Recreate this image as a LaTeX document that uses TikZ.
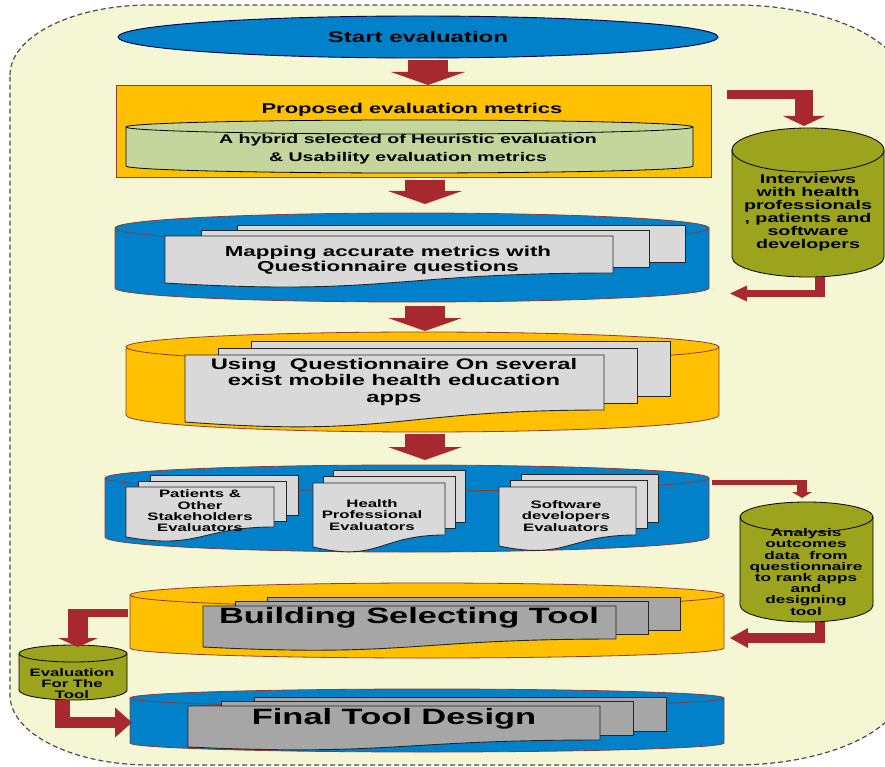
\documentclass[tikz,border=0pt]{standalone}
\usepackage{fontspec}
\setmainfont{Liberation Sans}
\usepackage{graphicx}
\usetikzlibrary{arrows.meta,shapes.geometric}
\definecolor{bgy}{HTML}{F5F6D4}
\definecolor{cblue}{HTML}{0081C9}
\definecolor{corange}{HTML}{FFC000}
\definecolor{cred}{HTML}{A8282F}
\definecolor{clgreen}{HTML}{C4D69B}
\definecolor{colive}{HTML}{9CA31C}
\definecolor{cgray}{HTML}{D9D9D9}
\definecolor{cdgray}{HTML}{A6A6A6}
\definecolor{cedge}{HTML}{8C3B3B}
\newcommand{\sx}[1]{\scalebox{1.55}[1]{#1}}
\newcommand{\fs}[2]{\bfseries\fontsize{#1}{#2}\selectfont}
\newcommand{\cyl}[7]{%
 \pgfmathsetmacro{\cylrx}{(#2-#1)/2}%
 \filldraw[#7] (#1,-#3) -- (#1,-#4) arc[start angle=180,end angle=360,x radius=\cylrx,y radius=#6] -- (#2,-#3) arc[start angle=0,end angle=180,x radius=\cylrx,y radius=#5] -- cycle;
 \draw[#7,fill=none] (#1,-#3) arc[start angle=180,end angle=360,x radius=\cylrx,y radius=#5];
}
\newcommand{\mdoc}[8]{%
 \filldraw[docline,fill=#8] ({#1+2*#6},{-(#2-2*#7)}) rectangle ({#3+2*#6},{-(#4-2*#7)});
 \filldraw[docline,fill=#8] ({#1+#6},{-(#2-#7)}) rectangle ({#3+#6},{-(#4-#7)});
 \pgfmathsetmacro{\mdxm}{(#1+#3)/2}\pgfmathsetmacro{\mdcy}{#5+1.31*(#5-#4)}%
 \filldraw[docline,fill=#8] (#1,-#2) -- (#3,-#2) -- (#3,-#4) .. controls (\mdxm,-#4) and (\mdxm,-\mdcy) .. (#1,-#5) -- cycle;
}
\tikzset{
 lbl/.style={inner sep=0pt, align=center, text=black},
 docline/.style={draw=black!85, line width=0.9pt},
 cylb/.style={fill=cblue, draw=cedge, line width=0.8pt},
 cylo/.style={fill=corange, draw=cedge, line width=0.8pt},
 cylg/.style={fill=clgreen, draw=black, line width=0.8pt},
 cylv/.style={fill=colive, draw=black, line width=0.8pt},
 bigdown/.style={draw=cred, line width=40pt, -{Triangle[width=74pt,length=13pt,line width=0pt]}},
 bar/.style={draw=cred, line width=#1},
}
\begin{document}
\begin{tikzpicture}[x=1pt,y=1pt]
\useasboundingbox (0,0) rectangle (885,-767);
\clip (0,0) rectangle (885,-767);
\fill[white] (0,0) rectangle (885,-767);
% outer dashed frame
\filldraw[fill=bgy, draw=black!70, line width=1.2pt, dash pattern=on 5pt off 3pt]
 (10,-75) arc[start angle=180,end angle=90,x radius=140,y radius=70]
 -- (735,-5) arc[start angle=90,end angle=0,x radius=170,y radius=80]
 -- (905,-685) arc[start angle=0,end angle=-90,x radius=170,y radius=80]
 -- (150,-765) arc[start angle=270,end angle=180,x radius=140,y radius=70]
 -- cycle;

% start
\node[ellipse, draw=black!70!blue, fill=cblue, line width=0.9pt, minimum width=600pt, minimum height=42pt, inner sep=0pt, font=\fs{15.5}{18}] (start) at (418,-37) {\sx{Start evaluation}};

% proposed metrics box
\node[draw=cedge, fill=corange, line width=1pt, minimum width=595pt, minimum height=92pt, inner sep=0pt] (prop) at (413.5,-132) {};
\node[lbl, font=\fs{14.2}{17}] (propt) at (412,-110) {\sx{Proposed evaluation metrics}};
\cyl{126}{693}{127}{166}{7}{7}{cylg}
\node[lbl, font=\fs{12.6}{18}] (hyb) at (408,-149) {\sx{A hybrid selected of Heuristic evaluation}\\\sx{\& Usability evaluation metrics}};

% mapping
\cyl{115}{709}{228}{288}{15}{14}{cylb}
\mdoc{165}{236}{613}{273}{283}{36}{5.5}{cgray}
\node[lbl, font=\fs{14.4}{14.8}] (map) at (388,-260) {\sx{Mapping accurate metrics with}\\\sx{Questionnaire questions}};

% using questionnaire
\cyl{126}{719}{347}{415}{15}{17}{cylo}
\mdoc{185}{355}{604}{410}{422}{33}{7}{cgray}
\node[lbl, font=\fs{15.3}{16.5}] (use) at (394,-382) {\sx{Using~ Questionnaire On several}\\\sx{exist mobile health education}\\\sx{apps}};

% evaluators
\cyl{105}{709}{478}{537}{13}{15}{cylb}
\mdoc{126}{487}{274}{527}{537}{12}{6}{cgray}
\mdoc{313}{483}{445}{535}{547}{10}{6.5}{cgray}
\mdoc{499}{487}{636}{535}{546}{11}{6.5}{cgray}
\node[lbl, font=\fs{10.8}{11.4}] (pat) at (200,-511) {\sx{Patients \&}\\\sx{Other}\\\sx{Stakeholders}\\\sx{Evaluators}};
\node[lbl, font=\fs{10.8}{11.4}] (hea) at (372,-515) {\sx{Health}\\\sx{Professional}\\\sx{Evaluators}};
\node[lbl, font=\fs{10.8}{11.4}] (sof) at (566,-516) {\sx{Software}\\\sx{developers}\\\sx{Evaluators}};

% building
\cyl{130}{724}{595}{648}{12}{10}{cylo}
\mdoc{203}{606}{616}{639}{647}{32}{4.5}{cdgray}
\node[lbl, font=\fs{22.2}{24}] (bld) at (409,-618) {\sx{Building Selecting Tool}};

% final
\cyl{130}{724}{698}{743}{9}{9}{cylb}
\mdoc{188}{706}{600}{740}{747}{33}{4.5}{cdgray}
\node[lbl, font=\fs{22.2}{24}] (fin) at (394,-719) {\sx{Final Tool Design}};

% side cylinders
\cyl{732}{884}{150}{257}{22}{20}{cylv}
\node[lbl, font=\fs{12.7}{13}] (int) at (808,-213) {\sx{Interviews}\\\sx{with health}\\\sx{professionals}\\\sx{, patients and}\\\sx{software}\\\sx{developers}};
\cyl{740}{873}{517}{605}{15}{17}{cylv}
\node[lbl, font=\fs{11.1}{11.2}] (ana) at (806,-572) {\sx{Analysis}\\\sx{outcomes}\\\sx{data~ from}\\\sx{questionnaire}\\\sx{to rank apps}\\\sx{and}\\\sx{designing}\\\sx{tool}};
\cyl{19}{127}{653.5}{690}{8.5}{10}{cylv}
\node[lbl, font=\fs{10.8}{11}] (evl) at (72,-683.5) {\sx{Evaluation}\\\sx{For The}\\\sx{Tool}};

% big down arrows
\coordinate (d1a) at (428,-60);  \coordinate (d1b) at (428,-85);
\coordinate (d2a) at (425,-180); \coordinate (d2b) at (425,-204);
\coordinate (d3a) at (425,-306); \coordinate (d3b) at (425,-331);
\coordinate (d4a) at (425,-434); \coordinate (d4b) at (425,-460);
\draw[bigdown] (d1a) -- (d1b);
\draw[bigdown] (d2a) -- (d2b);
\draw[bigdown] (d3a) -- (d3b);
\draw[bigdown] (d4a) -- (d4b);

% right: to interviews
\coordinate (r1a) at (727,-94.5); \coordinate (r1b) at (804,-126);
\draw[bar=9pt] (r1a) -- ([xshift=9pt]r1a -| r1b);
\draw[bar=18pt, -{Triangle[width=42pt,length=10pt,line width=0pt]}] ([yshift=4.5pt]r1a -| r1b) -- (r1b);
% back from interviews
\coordinate (r2a) at (820,-277); \coordinate (r2b) at (730,-293.5);
\draw[bar=10pt] (r2a) -- ([yshift=-3.75pt]r2a |- r2b);
\draw[bar=7.5pt, -{Triangle[width=16pt,length=17pt,line width=0pt]}] ([xshift=5pt]r2a |- r2b) -- (r2b);
% to analysis
\coordinate (r3a) at (712,-482.5); \coordinate (r3b) at (802,-498);
\draw[bar=5pt] (r3a) -- ([xshift=5pt]r3a -| r3b);
\draw[bar=10pt, -{Triangle[width=20pt,length=6pt,line width=0pt]}] ([yshift=2.5pt]r3a -| r3b) -- (r3b);
% back from analysis
\coordinate (r4a) at (820,-622); \coordinate (r4b) at (730,-638);
\draw[bar=10pt] (r4a) -- ([yshift=-5pt]r4a |- r4b);
\draw[bar=10pt, -{Triangle[width=20pt,length=18pt,line width=0pt]}] ([xshift=5pt]r4a |- r4b) -- (r4b);
% left: building -> evaluation
\coordinate (l1a) at (128,-613); \coordinate (l1b) at (78,-647);
\draw[bar=8pt] (l1a) -- ([xshift=-10pt]l1a -| l1b);
\draw[bar=20pt, -{Triangle[width=40pt,length=9pt,line width=0pt]}] ([yshift=4pt]l1a -| l1b) -- (l1b);
% evaluation -> final
\coordinate (l2a) at (62.5,-700); \coordinate (l2b) at (132,-722.5);
\draw[bar=15pt] (l2a) -- ([yshift=-5.5pt]l2a |- l2b);
\draw[bar=11pt, -{Triangle[width=30pt,length=17pt,line width=0pt]}] ([xshift=-7.5pt]l2a |- l2b) -- (l2b);
\end{tikzpicture}
\end{document}
